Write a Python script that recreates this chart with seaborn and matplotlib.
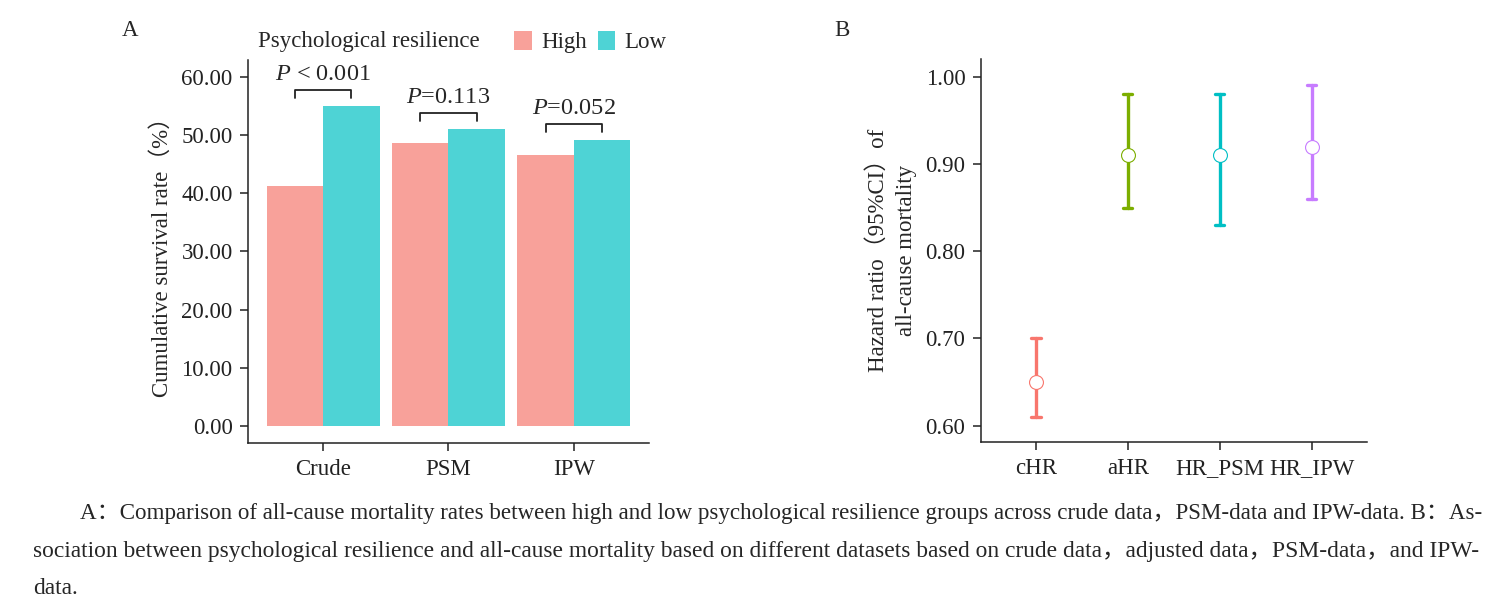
import numpy as np
import pandas as pd
import seaborn as sns
import matplotlib
matplotlib.use("Agg")
import matplotlib.pyplot as plt
from matplotlib.ticker import FormatStrFormatter

# ---- data ----
methods = ["Crude", "PSM", "IPW"]
groups = ["High", "Low"]
rate_high = [41.3, 48.6, 46.6]
rate_low = [55.0, 51.0, 49.1]
p_labels = [r"$P$ < 0.001", r"$P$=0.113", r"$P$=0.052"]

hr_names = ["cHR", "aHR", "HR_PSM", "HR_IPW"]
hr_est = [0.65, 0.91, 0.91, 0.92]
hr_lo = [0.61, 0.85, 0.83, 0.86]
hr_hi = [0.70, 0.98, 0.98, 0.99]

bar_colors = {"High": "#F8A19A", "Low": "#4ED3D5"}
hr_colors = ["#F8766D", "#7CAE00", "#00BFC4", "#C77CFF"]

caption = [
    "A：Comparison of all-cause mortality rates between high and low psychological resilience groups across crude data，PSM-data and IPW-data. B：As-",
    "sociation between psychological resilience and all-cause mortality based on different datasets based on crude data，adjusted data，PSM-data，and IPW-",
    "data.",
]

sns.set_style("ticks")
plt.rcParams['font.family'] = ['Liberation Serif', 'Noto Sans CJK SC', 'DejaVu Sans']
plt.rcParams['mathtext.fontset'] = 'custom'
plt.rcParams['mathtext.rm'] = 'Liberation Serif'
plt.rcParams['mathtext.it'] = 'Liberation Serif:italic'
plt.rcParams['axes.linewidth'] = 1.1
plt.rcParams['xtick.major.width'] = 1.1
plt.rcParams['ytick.major.width'] = 1.1
plt.rcParams['xtick.major.size'] = 6
plt.rcParams['ytick.major.size'] = 6
plt.rcParams['xtick.major.pad'] = 6
plt.rcParams['ytick.major.pad'] = 5
plt.rcParams['axes.edgecolor'] = '#222222'

fs = 16.5

df_bar = pd.DataFrame({
    "method": methods * 2,
    "group": ["High"] * 3 + ["Low"] * 3,
    "rate": rate_high + rate_low,
})

rows = []
for name, lo, est, hi in zip(hr_names, hr_lo, hr_est, hr_hi):
    for v in (lo, est, hi):
        rows.append({"term": name, "hr": v})
df_hr = pd.DataFrame(rows)

fig = plt.figure(figsize=(15.1, 6.07), dpi=100)
axA = fig.add_axes([0.1642, 0.2707, 0.2656, 0.6305])
axB = fig.add_axes([0.6495, 0.2723, 0.2558, 0.6305])

# ---- panel A ----
sns.barplot(data=df_bar, x="method", y="rate", hue="group", palette=bar_colors,
            width=0.9, saturation=1, ax=axA, edgecolor="none", linewidth=0)
axA.set_xlim(-0.6, 2.6)
axA.set_ylim(-2.87, 62.9)
axA.set_yticks(np.arange(0, 61, 10))
axA.yaxis.set_major_formatter(FormatStrFormatter("%.2f"))
axA.set_xlabel("")
axA.set_ylabel("Cumulative survival rate（%）", fontsize=fs, labelpad=6)
axA.tick_params(labelsize=fs, colors="#222222")
sns.despine(ax=axA)

for i, (h, l, lab) in enumerate(zip(rate_high, rate_low, p_labels)):
    top = max(h, l) + 2.8
    axA.plot([i - 0.225, i - 0.225, i + 0.225, i + 0.225],
             [top - 1.45, top, top, top - 1.45], color="#222222", lw=1.3,
             clip_on=False)
    axA.text(i, top + 2.6, lab, ha="center", va="center", fontsize=fs + 1)

handles, labels = axA.get_legend_handles_labels()
axA.get_legend().remove()
fig.text(258 / 1510, 1 - 42 / 607, "Psychological resilience", fontsize=fs,
         ha="left", va="center")
fig.legend(handles, labels, loc="center left", bbox_to_anchor=(503 / 1510, 1 - 42 / 607),
           ncol=2, frameon=False, fontsize=fs, handlelength=0.75, handleheight=0.9,
           handletextpad=0.4, columnspacing=0.5, borderpad=0)

# ---- panel B ----
sns.pointplot(data=df_hr, x="term", y="hr", hue="term", palette=hr_colors,
              estimator=np.median, errorbar=("pi", 100), capsize=0.1,
              linestyle="none", marker="o", markersize=10,
              markerfacecolor="white", markeredgewidth=0.8,
              err_kws={"linewidth": 2.4}, legend=False, ax=axB)
for ln in axB.lines:
    if ln.get_marker() == "o":
        ln.set_zorder(5)
axB.set_xlim(-0.6, 3.6)
axB.set_ylim(0.5817, 1.0203)
axB.set_yticks([0.6, 0.7, 0.8, 0.9, 1.0])
axB.yaxis.set_major_formatter(FormatStrFormatter("%.2f"))
axB.set_xlabel("")
axB.set_ylabel("Hazard ratio（95%CI）of\nall-cause mortality", fontsize=fs,
               labelpad=6, linespacing=1.45)
axB.tick_params(labelsize=fs, colors="#222222")
sns.despine(ax=axB)

fig.text(130 / 1510, 1 - 30 / 607, "A", fontsize=fs, ha="center", va="center")
fig.text(842 / 1510, 1 - 30 / 607, "B", fontsize=fs, ha="center", va="center")

# ---- caption, each long line sized to the page width ----
cap_fs = 14
ys = [513, 551, 589]
xs = [80, 33, 33]
texts = [fig.text(x / 1510, 1 - y / 607, t, fontsize=cap_fs, ha="left", va="center")
         for x, y, t in zip(xs, ys, caption)]
fig.canvas.draw()
s1 = (1492 - 80) / texts[0].get_window_extent().width
s2 = (1492 - 33) / texts[1].get_window_extent().width
texts[0].set_fontsize(cap_fs * s1)
texts[1].set_fontsize(cap_fs * s2)
texts[2].set_fontsize(cap_fs * s2)

fig.savefig("out.png", dpi=100)
